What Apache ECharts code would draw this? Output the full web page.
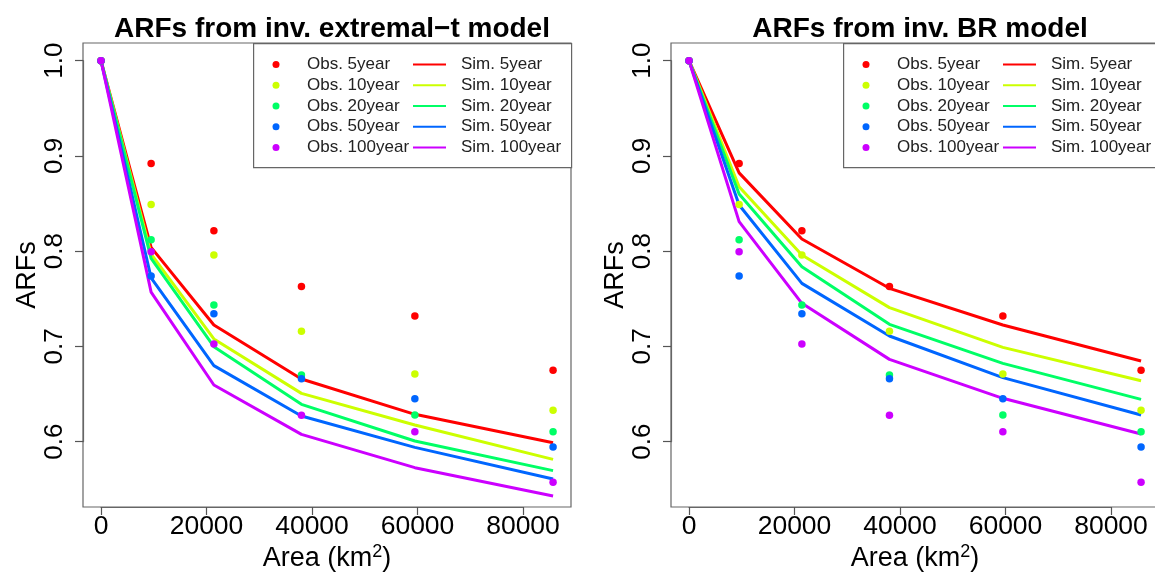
<!DOCTYPE html>
<html>
<head>
<meta charset="utf-8">
<script src="https://cdn.jsdelivr.net/npm/echarts@6/dist/echarts.min.js"></script>
<style>
html,body{margin:0;padding:0;background:#fff;}
#chart{width:1155px;height:572px;}
</style>
</head>
<body>
<div id="chart"></div>
<script>
// ---- data ----
const area = [0, 9500, 21400, 38000, 59500, 85700];
const periods = ['5year', '10year', '20year', '50year', '100year'];
const colors = ['#FF0000', '#CCFF00', '#00FF66', '#0066FF', '#CC00FF'];
const xTicks = [0, 20000, 40000, 60000, 80000];
const yTicks = [0.6, 0.7, 0.8, 0.9, 1.0];
const titles = ['ARFs from inv. extremal\u2212t model', 'ARFs from inv. BR model'];

// observed ARFs (same in both panels)
const obs5   = [1.0, 0.892, 0.8215, 0.763, 0.732, 0.675];
const obs10  = [1.0, 0.849, 0.796, 0.716, 0.671, 0.633];
const obs20  = [1.0, 0.812, 0.7435, 0.670, 0.628, 0.6105];
const obs50  = [1.0, 0.774, 0.7344, 0.666, 0.645, 0.5944];
const obs100 = [1.0, 0.7995, 0.7025, 0.6276, 0.6105, 0.5573];

// simulated ARFs, inv. extremal-t model
const simT5   = [1.0, 0.804, 0.7225, 0.6658, 0.6287, 0.5989];
const simT10  = [1.0, 0.797, 0.7078, 0.6507, 0.6175, 0.5814];
const simT20  = [1.0, 0.7925, 0.6997, 0.6392, 0.6007, 0.5696];
const simT50  = [1.0, 0.772, 0.6798, 0.6269, 0.594, 0.5608];
const simT100 = [1.0, 0.757, 0.6595, 0.6077, 0.5727, 0.543];

// simulated ARFs, inv. BR model
const simB5   = [1.0, 0.8822, 0.8128, 0.761, 0.7225, 0.6847];
const simB10  = [1.0, 0.8677, 0.796, 0.7407, 0.699, 0.664];
const simB20  = [1.0, 0.86, 0.7837, 0.7232, 0.6822, 0.6444];
const simB50  = [1.0, 0.8485, 0.7662, 0.7109, 0.6672, 0.628];
const simB100 = [1.0, 0.831, 0.7452, 0.6864, 0.6455, 0.608];

const obsAll = [obs5, obs10, obs20, obs50, obs100];
const simAll = [[simT5, simT10, simT20, simT50, simT100], [simB5, simB10, simB20, simB50, simB100]];

// ---- layout ----
const FONT = '"Liberation Sans", Arial, Helvetica, sans-serif';
const panels = [
  { left: 83, legendLeft: 253 },
  { left: 671, legendLeft: 843 }
];
const plotW = 488, plotTop = 43, plotH = 464;
const X_MIN = -3412, X_MAX = 89100;     // R-style 4% padded ranges
const Y_MIN = 0.5314, Y_MAX = 1.01855;

const chart = echarts.init(document.getElementById('chart'), null, { renderer: 'canvas' });

const grid = [], xAxis = [], yAxis = [], series = [], title = [], legend = [], graphic = [];

// data grids (0, 1)
panels.forEach((p, pi) => {
  grid.push({ left: p.left, top: plotTop, width: plotW, height: plotH, show: true,
    borderColor: '#666', borderWidth: 1.2, backgroundColor: 'transparent',
    containLabel: false, outerBoundsMode: 'none' });
  xAxis.push({
    type: 'value', gridIndex: pi, min: X_MIN, max: X_MAX,
    axisLine: { show: false, onZero: false }, splitLine: { show: false },
    axisTick: { show: false }, axisLabel: { show: false },
    name: '{n|Area (km}{s|2}{n|)}',
    nameLocation: 'middle', nameGap: 36,
    nameTextStyle: { rich: {
      n: { fontSize: 27, fontFamily: FONT, color: '#000' },
      s: { fontSize: 18, fontFamily: FONT, color: '#000', verticalAlign: 'top', padding: [0, 0, 14, 0] }
    } }
  });
  yAxis.push({
    type: 'value', gridIndex: pi, min: Y_MIN, max: Y_MAX,
    axisLine: { show: false, onZero: false }, splitLine: { show: false },
    axisTick: { show: false }, axisLabel: { show: false },
    name: 'ARFs', nameLocation: 'middle', nameRotate: 90, nameGap: 42,
    nameTextStyle: { fontSize: 27, fontFamily: FONT, color: '#000' }
  });
  title.push({
    text: titles[pi], left: p.left + plotW / 2, top: 10, textAlign: 'center',
    textStyle: { fontSize: 28, fontWeight: 'bold', fontFamily: FONT, color: '#000' }
  });

  periods.forEach((per, i) => {
    series.push({
      name: 'Sim. ' + per, type: 'line', xAxisIndex: pi, yAxisIndex: pi,
      data: area.map((a, j) => [a, simAll[pi][i][j]]),
      symbol: 'none', showSymbol: false, color: colors[i],
      lineStyle: { width: 3, color: colors[i] }, z: 2, animation: false
    });
  });
  periods.forEach((per, i) => {
    series.push({
      name: 'Obs. ' + per, type: 'scatter', xAxisIndex: pi, yAxisIndex: pi,
      data: area.map((a, j) => [a, obsAll[i][j]]),
      symbol: 'circle', symbolSize: 7.5, color: colors[i],
      itemStyle: { color: colors[i], opacity: 1 }, z: 3, animation: false
    });
  });

  // legend frame
  graphic.push({
    type: 'rect', left: p.legendLeft, top: plotTop, silent: true, z: 5,
    shape: { width: p.left + plotW - p.legendLeft, height: 124 },
    style: { fill: '#fff', stroke: '#666', lineWidth: 1.2 }
  });
  const lx = p.legendLeft;
  legend.push({
    orient: 'vertical', left: lx + 19.5, top: 54, itemWidth: 7, itemHeight: 7, itemGap: 0,
    icon: 'circle', padding: 0, z: 10, selectedMode: false,
    data: periods.map(per => 'Obs. ' + per),
    textStyle: { fontSize: 17, fontFamily: FONT, color: '#222', padding: [0, 0, 0, 22.5], lineHeight: 20.75 }
  });
  legend.push({
    orient: 'vertical', left: lx + 160, top: 54, itemWidth: 33, itemHeight: 2, itemGap: 0,
    icon: 'rect', padding: 0, z: 10, selectedMode: false,
    data: periods.map(per => 'Sim. ' + per),
    textStyle: { fontSize: 17, fontFamily: FONT, color: '#222', padding: [0, 0, 0, 10], lineHeight: 20.75 }
  });
});

// tick grids (2, 3): R-style axes spanning first..last tick, offset onto the box edges
const xt0 = xTicks[0], xt1 = xTicks[xTicks.length - 1];
const yt0 = yTicks[0], yt1 = yTicks[yTicks.length - 1];
const pxPerX = plotW / (X_MAX - X_MIN), pxPerY = plotH / (Y_MAX - Y_MIN);
panels.forEach((p, pi) => {
  const gLeft = p.left + (xt0 - X_MIN) * pxPerX;
  const gWidth = (xt1 - xt0) * pxPerX;
  const gTop = plotTop + (Y_MAX - yt1) * pxPerY;
  const gHeight = (yt1 - yt0) * pxPerY;
  const offX = (plotTop + plotH) - (gTop + gHeight);
  const offY = gLeft - p.left;
  grid.push({ left: gLeft, top: gTop, width: gWidth, height: gHeight, show: false,
    containLabel: false, outerBoundsMode: 'none' });
  xAxis.push({
    type: 'value', gridIndex: 2 + pi, min: xt0, max: xt1, interval: xTicks[1] - xTicks[0],
    offset: offX, position: 'bottom',
    axisLine: { show: true, onZero: false, lineStyle: { color: '#666', width: 1.2 } },
    splitLine: { show: false },
    axisTick: { show: true, inside: false, length: 8, lineStyle: { color: '#555', width: 1.2 } },
    axisLabel: { show: true, margin: 6, color: '#000', fontSize: 26.5, fontFamily: FONT,
      formatter: v => String(v) }
  });
  yAxis.push({
    type: 'value', gridIndex: 2 + pi, min: yt0, max: yt1, interval: yTicks[1] - yTicks[0],
    offset: offY, position: 'left',
    axisLine: { show: true, onZero: false, lineStyle: { color: '#666', width: 1.2 } },
    splitLine: { show: false },
    axisTick: { show: true, inside: false, length: 8, lineStyle: { color: '#555', width: 1.2 } },
    axisLabel: { show: true, margin: 15, rotate: 90, color: '#000', fontSize: 26, fontFamily: FONT,
      formatter: v => v.toFixed(1) }
  });
});

chart.setOption({
  animation: false,
  backgroundColor: '#fff',
  title, grid, xAxis, yAxis, legend, graphic, series
});
</script>
</body>
</html>
